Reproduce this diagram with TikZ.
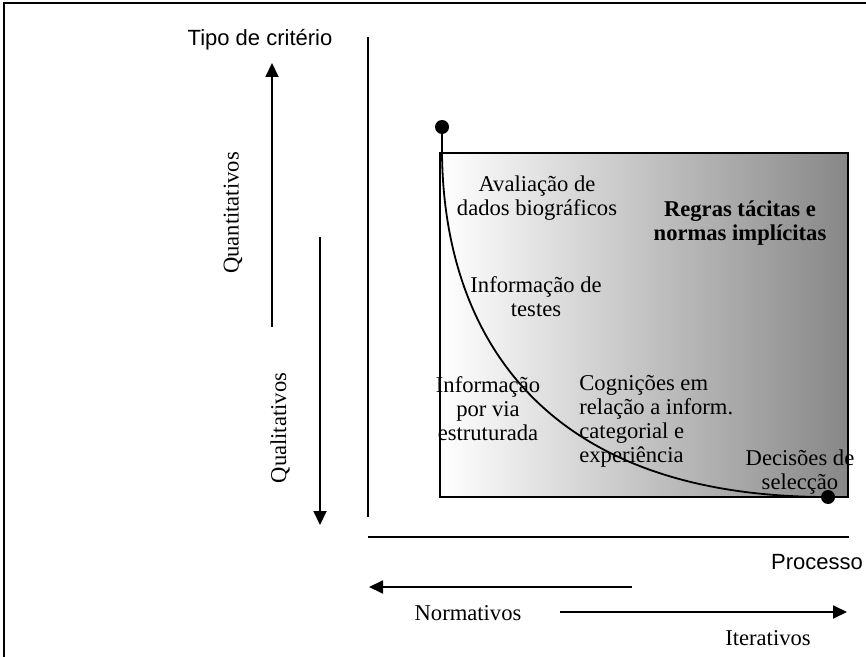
\documentclass[tikz,border=0pt]{standalone}
\usepackage{fontspec}
\setmainfont{Liberation Serif}
\setsansfont{Liberation Sans}
\usetikzlibrary{positioning,arrows.meta}

\begin{document}
\begin{tikzpicture}[x=0.5pt,y=-0.5pt,
  lbl/.style={font=\fontsize{11.3}{12}\selectfont, align=center, inner sep=0pt},
  axlbl/.style={font=\sffamily\fontsize{11}{13}\selectfont, inner sep=0pt},
  arr/.style={-{Triangle[length=7pt,width=6.5pt]}, line width=0.9pt},
  dot/.style={circle, fill=black, inner sep=0pt, minimum size=7pt}]
  \useasboundingbox (0,0) rectangle (866,657);
  % frame
  \draw[line width=0.8pt] (4,657) -- (4,3) -- (866,3);

  % axes
  \coordinate (vtop) at (368,37);
  \coordinate (vbot) at (368,517);
  \coordinate (hleft) at (368,537);
  \coordinate (hright) at (849,537);
  \draw[line width=0.9pt] (vtop) -- (vbot);
  \draw[line width=0.9pt] (hleft) -- (hright);
  \node[axlbl] (tipo) at (260,40) {Tipo de critério};
  \node[axlbl] (proc) at (817,562) {Processo};

  % box with shading
  \node[draw, line width=0.9pt, minimum width=204pt, minimum height=172pt,
        inner sep=0pt, left color=white, middle color=black!19,
        right color=black!47] (box) at (644,325) {};
  \node[dot] (d1) at (442,127) {};
  \node[dot] (d2) at (828,497) {};
  \draw[line width=0.9pt] (d1.center) -- (d1.center |- box.north)
    .. controls (443,310) and (520,497) .. (d2.center);

  % box texts
  \node[lbl] (aval) at (537,198) {Avaliação de\\dados biográficos};
  \node[lbl, font=\fontsize{11.3}{12}\selectfont\bfseries] (regras) at (740,223) {Regras tácitas e\\normas implícitas};
  \node[lbl] (testes) at (536,297) {Informação de\\testes};
  \node[lbl] (estr) at (488,409) {Informação\\por via\\estruturada};
  \node[lbl, align=left, anchor=west] (cogn) at (579,421) {Cognições em\\relação a inform.\\categorial e\\experiência};
  \node[lbl] (decis) at (800,472) {Decisões de\\selecção};

  % vertical arrows
  \coordinate (qt0) at (272,327);
  \coordinate (qt1) at (272,63);
  \coordinate (ql0) at (320,237);
  \coordinate (ql1) at (320,525);
  \draw[arr] (qt0) -- (qt1);
  \draw[arr] (ql0) -- (ql1);
  \node[lbl, rotate=90] (quant) at (233,213) {Quantitativos};
  \node[lbl, rotate=90] (qual) at (280,428) {Qualitativos};

  % horizontal arrows
  \coordinate (nv0) at (632,587);
  \coordinate (nv1) at (369,587);
  \coordinate (it0) at (560,612);
  \coordinate (it1) at (847,612);
  \draw[arr] (nv0) -- (nv1);
  \draw[arr] (it0) -- (it1);
  \node[lbl] (norm) at (468,613) {Normativos};
  \node[lbl] (iter) at (768,638) {Iterativos};
\end{tikzpicture}
\end{document}
